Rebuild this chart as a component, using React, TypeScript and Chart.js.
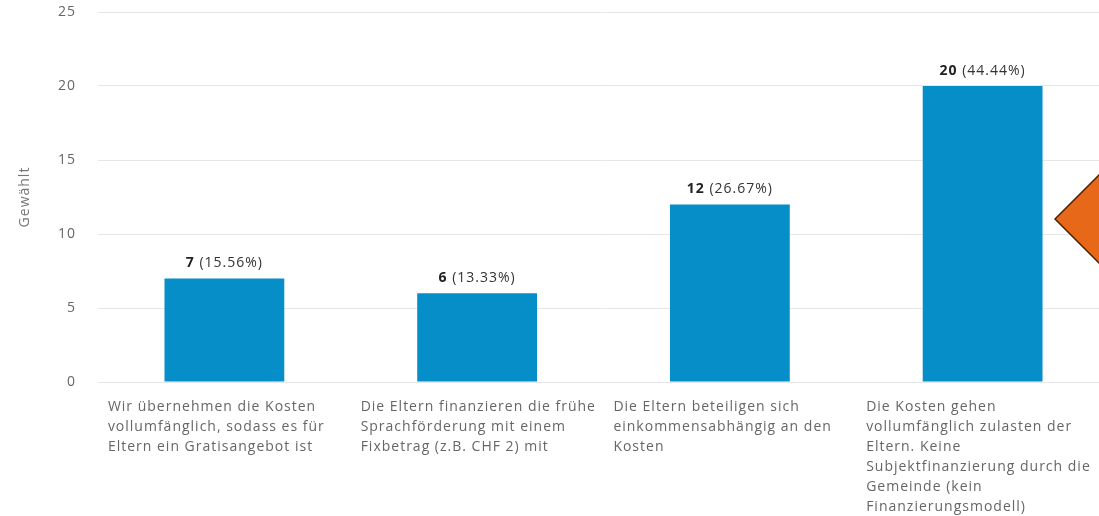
import React, { useEffect, useRef } from "react";
import { Chart, registerables } from "chart.js";

Chart.register(...registerables);

const categories: string[][] = [
  ["Wir übernehmen die Kosten", "vollumfänglich, sodass es für", "Eltern ein Gratisangebot ist"],
  ["Die Eltern finanzieren die frühe", "Sprachförderung mit einem", "Fixbetrag (z.B. CHF 2) mit"],
  ["Die Eltern beteiligen sich", "einkommensabhängig an den", "Kosten"],
  [
    "Die Kosten gehen",
    "vollumfänglich zulasten der",
    "Eltern. Keine",
    "Subjektfinanzierung durch die",
    "Gemeinde (kein",
    "Finanzierungsmodell)",
  ],
];
const values: number[] = [7, 6, 12, 20];
const percentLabels: string[] = ["15.56%", "13.33%", "26.67%", "44.44%"];
const yTicks: number[] = [0, 5, 10, 15, 20, 25];
const yAxisTitle = "Gewählt";

const FONT = "'Open Sans', 'DejaVu Sans', sans-serif";
const FONT_SIZE = 14;
const LETTER_SPACING = "1px";

const spacingPlugin = {
  id: "spacing",
  afterInit(chart: any) {
    chart.ctx.letterSpacing = LETTER_SPACING;
  },
  beforeUpdate(chart: any) {
    chart.ctx.letterSpacing = LETTER_SPACING;
  },
  beforeDraw(chart: any) {
    chart.ctx.letterSpacing = LETTER_SPACING;
  },
};

const valueLabelPlugin = {
  id: "valueLabels",
  afterDatasetsDraw(chart: any) {
    const ctx = chart.ctx;
    const meta = chart.getDatasetMeta(0);
    ctx.save();
    ctx.letterSpacing = LETTER_SPACING;
    meta.data.forEach((bar: any, i: number) => {
      const { x, y } = bar.getProps(["x", "y"], true);
      const boldText = String(values[i]);
      const normalText = " (" + percentLabels[i] + ")";
      ctx.font = `bold ${FONT_SIZE}px ${FONT}`;
      const w1 = ctx.measureText(boldText).width;
      ctx.font = `${FONT_SIZE}px ${FONT}`;
      const w2 = ctx.measureText(normalText).width;
      const start = x - (w1 + w2) / 2;
      const ty = y - 15;
      ctx.textBaseline = "middle";
      ctx.textAlign = "left";
      ctx.fillStyle = "#222222";
      ctx.font = `bold ${FONT_SIZE}px ${FONT}`;
      ctx.fillText(boldText, start, ty);
      ctx.fillStyle = "#333333";
      ctx.font = `${FONT_SIZE}px ${FONT}`;
      ctx.fillText(normalText, start + w1, ty);
    });
    ctx.restore();
  },
};

const diamondPlugin = {
  id: "diamond",
  afterDraw(chart: any) {
    const { ctx, chartArea } = chart;
    const cx = chartArea.right + 6;
    const cy = chartArea.top + 207;
    const d = 60;
    ctx.save();
    ctx.beginPath();
    ctx.moveTo(cx - d, cy);
    ctx.lineTo(cx, cy - d);
    ctx.lineTo(cx + d, cy);
    ctx.lineTo(cx, cy + d);
    ctx.closePath();
    ctx.fillStyle = "#e8681a";
    ctx.fill();
    ctx.lineWidth = 1.5;
    ctx.strokeStyle = "#4a2100";
    ctx.stroke();
    ctx.restore();
  },
};

export default function App() {
  const canvasRef = useRef<HTMLCanvasElement | null>(null);

  useEffect(() => {
    if (!canvasRef.current) return;
    const chart = new Chart(canvasRef.current, {
      type: "bar",
      data: {
        labels: categories,
        datasets: [
          {
            data: values,
            backgroundColor: "#068ec8",
            borderWidth: 0,
            barPercentage: 0.474,
            categoryPercentage: 1,
          },
        ],
      },
      options: {
        responsive: false,
        animation: false,
        layout: { padding: { top: 12, right: 11, left: 0, bottom: 0 } },
        plugins: {
          legend: { display: false },
          tooltip: { enabled: false },
        },
        scales: {
          x: {
            grid: { display: false, drawTicks: false },
            border: { display: false },
            ticks: {
              autoSkip: false,
              maxRotation: 0,
              minRotation: 0,
              align: "start",
              labelOffset: -116.5,
              padding: 15,
              color: "#666666",
              font: { family: FONT, size: FONT_SIZE, lineHeight: 20 / FONT_SIZE },
            },
            afterFit: (scale: any) => {
              scale.height = 134;
              scale.paddingLeft = 0;
              scale.paddingRight = 0;
            },
          },
          y: {
            min: 0,
            max: 25,
            afterBuildTicks: (scale: any) => {
              scale.ticks = yTicks.map((v) => ({ value: v }));
            },
            grid: { color: "#e6e6e6", drawTicks: false, lineWidth: 1 },
            border: { display: false },
            ticks: {
              padding: 22,
              color: "#666666",
              font: { family: FONT, size: FONT_SIZE },
            },
            title: {
              display: true,
              text: yAxisTitle,
              color: "#777777",
              padding: { top: 16.6, bottom: 0 },
              font: { family: FONT, size: FONT_SIZE },
            },
            afterFit: (scale: any) => {
              scale.width = 98;
              scale.paddingTop = 0;
              scale.paddingBottom = 0;
            },
          },
        },
      },
      plugins: [spacingPlugin, valueLabelPlugin, diamondPlugin],
    });
    return () => chart.destroy();
  }, []);

  return (
    <div
      style={{
        position: "fixed",
        left: 0,
        top: 0,
        width: 1099,
        height: 516,
        overflow: "hidden",
        background: "#ffffff",
      }}
    >
      <canvas ref={canvasRef} width={1120} height={516} style={{ display: "block" }} />
    </div>
  );
}
